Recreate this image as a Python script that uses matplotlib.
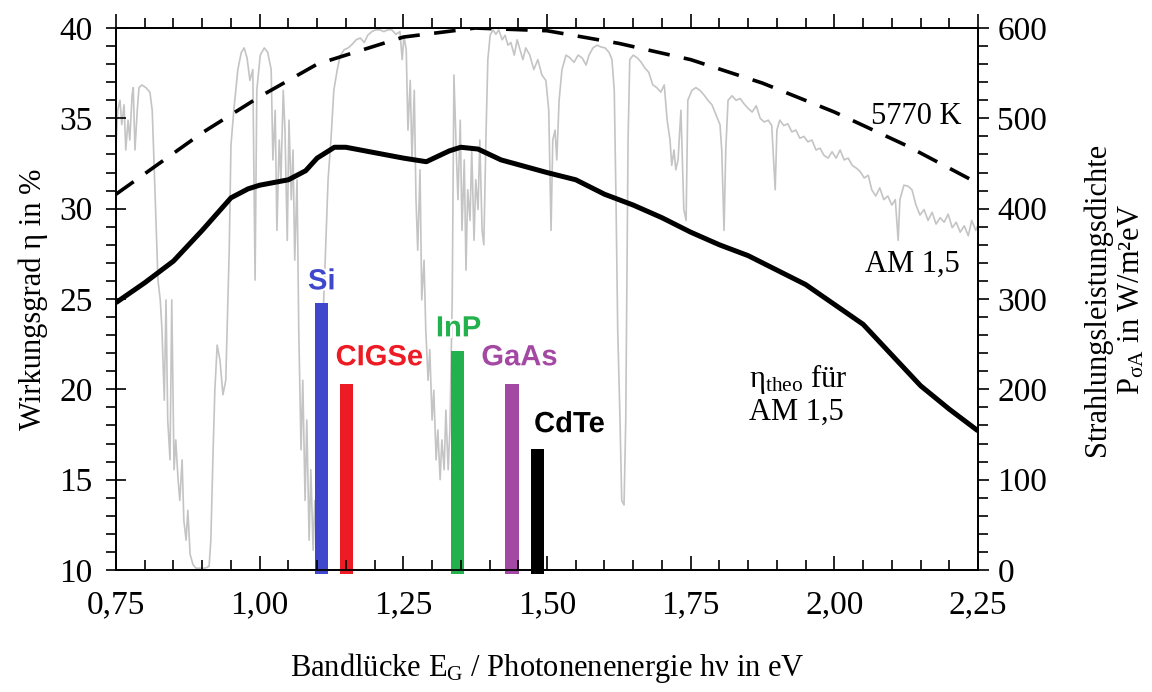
import matplotlib
matplotlib.use("Agg")
import matplotlib.pyplot as plt
import matplotlib.patheffects as pe
from matplotlib.ticker import MultipleLocator, FuncFormatter

# AM 1,5 spectrum (photon energy in eV, power density in W/m^2 eV)
am15_e = [0.750, 0.753, 0.757, 0.760, 0.764, 0.767, 0.771, 0.774, 0.778, 0.780, 0.783, 0.787, 0.790,
          0.795, 0.802, 0.809, 0.813, 0.816, 0.820, 0.823, 0.827, 0.830, 0.834, 0.837, 0.840, 0.844,
          0.847, 0.851, 0.854, 0.858, 0.861, 0.865, 0.868, 0.872, 0.875, 0.879, 0.884, 0.889, 0.896,
          0.905, 0.912, 0.915, 0.919, 0.922, 0.926, 0.931, 0.936, 0.941, 0.947, 0.950, 0.955, 0.962,
          0.968, 0.973, 0.978, 0.983, 0.988, 0.992, 0.995, 1.001, 1.008, 1.014, 1.020, 1.023, 1.027,
          1.030, 1.034, 1.037, 1.041, 1.044, 1.048, 1.051, 1.055, 1.058, 1.061, 1.065, 1.068, 1.072,
          1.075, 1.079, 1.082, 1.086, 1.089, 1.093, 1.096, 1.101, 1.105, 1.108, 1.114, 1.119, 1.124,
          1.129, 1.135, 1.140, 1.147, 1.154, 1.161, 1.168, 1.175, 1.182, 1.188, 1.195, 1.202, 1.209,
          1.216, 1.223, 1.230, 1.237, 1.244, 1.248, 1.251, 1.255, 1.258, 1.262, 1.265, 1.269, 1.272,
          1.275, 1.279, 1.282, 1.286, 1.289, 1.293, 1.296, 1.300, 1.303, 1.307, 1.310, 1.314, 1.317,
          1.321, 1.324, 1.328, 1.331, 1.335, 1.338, 1.342, 1.345, 1.349, 1.352, 1.356, 1.359, 1.362,
          1.366, 1.369, 1.373, 1.376, 1.380, 1.383, 1.387, 1.390, 1.394, 1.397, 1.401, 1.406, 1.411,
          1.416, 1.422, 1.427, 1.432, 1.437, 1.443, 1.448, 1.453, 1.458, 1.463, 1.470, 1.477, 1.484,
          1.491, 1.498, 1.503, 1.507, 1.510, 1.514, 1.517, 1.521, 1.526, 1.533, 1.540, 1.547, 1.554,
          1.561, 1.568, 1.573, 1.580, 1.587, 1.594, 1.601, 1.608, 1.613, 1.617, 1.620, 1.623, 1.627,
          1.630, 1.634, 1.637, 1.641, 1.644, 1.650, 1.657, 1.664, 1.670, 1.677, 1.684, 1.691, 1.698,
          1.704, 1.709, 1.714, 1.717, 1.721, 1.724, 1.728, 1.733, 1.738, 1.742, 1.745, 1.752, 1.759,
          1.766, 1.773, 1.780, 1.787, 1.794, 1.801, 1.804, 1.808, 1.811, 1.815, 1.822, 1.829, 1.836,
          1.843, 1.850, 1.857, 1.864, 1.871, 1.878, 1.885, 1.891, 1.897, 1.900, 1.905, 1.912, 1.919,
          1.926, 1.933, 1.940, 1.947, 1.954, 1.961, 1.968, 1.975, 1.982, 1.989, 1.996, 2.003, 2.010,
          2.017, 2.024, 2.031, 2.038, 2.045, 2.052, 2.059, 2.065, 2.072, 2.079, 2.086, 2.093, 2.100,
          2.106, 2.111, 2.114, 2.121, 2.128, 2.135, 2.142, 2.149, 2.156, 2.163, 2.170, 2.177, 2.184,
          2.191, 2.198, 2.205, 2.212, 2.219, 2.226, 2.233, 2.239, 2.246, 2.250]
am15_p = [470, 509, 520, 493, 515, 465, 498, 476, 526, 534, 465, 509, 534,
          537, 534, 529, 509, 454, 376, 321, 299, 266, 188, 299, 166, 122,
          299, 111, 144, 100, 77, 122, 55, 33, 66, 17, 6, 2, 2,
          2, 4, 33, 133, 199, 249, 232, 194, 210, 354, 470, 509, 554,
          573, 578, 567, 542, 554, 321, 531, 570, 578, 573, 554, 454, 509,
          376, 476, 432, 531, 487, 365, 498, 410, 465, 343, 432, 266, 133,
          210, 77, 166, 33, 111, 22, 77, 33, 166, 244, 343, 432, 476,
          531, 554, 569, 576, 578, 582, 587, 589, 584, 592, 596, 598, 598,
          596, 598, 598, 593, 596, 565, 591, 576, 487, 542, 454, 531, 410,
          354, 443, 299, 343, 266, 210, 244, 166, 199, 122, 155, 100, 144,
          111, 177, 111, 155, 299, 548, 465, 410, 498, 376, 454, 332, 421,
          387, 465, 365, 432, 399, 476, 376, 360, 487, 565, 592, 598, 593,
          598, 587, 592, 581, 584, 570, 587, 576, 565, 578, 570, 554, 565,
          548, 542, 509, 376, 476, 487, 454, 520, 554, 570, 567, 562, 570,
          567, 559, 570, 578, 581, 579, 578, 573, 565, 531, 410, 266, 166,
          77, 72, 166, 476, 565, 570, 567, 562, 556, 551, 537, 534, 529,
          537, 498, 476, 448, 465, 443, 454, 509, 399, 387, 520, 531, 534,
          531, 526, 520, 515, 504, 493, 465, 376, 465, 520, 525, 520, 522,
          516, 511, 507, 514, 500, 496, 498, 492, 421, 487, 498, 492, 494,
          485, 487, 478, 480, 474, 476, 465, 467, 459, 456, 463, 456, 465,
          454, 456, 448, 445, 441, 434, 437, 421, 414, 423, 410, 414, 404,
          410, 365, 410, 426, 425, 421, 404, 393, 399, 387, 396, 383, 390,
          385, 394, 379, 385, 374, 381, 370, 387, 376, 382]

# black body spectrum of the sun, 5770 K
bb_e = [0.75, 0.90, 1.00, 1.10, 1.25, 1.375, 1.50, 1.625, 1.75, 1.875, 2.00, 2.125, 2.25]
bb_p = [416, 484, 524, 560, 590, 600, 597, 583, 565, 539, 507, 470, 428]

# theoretical efficiency limit for AM 1,5 in %
eta_e = [0.75, 0.80, 0.85, 0.90, 0.95, 0.98, 1.00, 1.05, 1.08, 1.10, 1.13, 1.15, 1.20, 1.25,
         1.29, 1.33, 1.35, 1.38, 1.42, 1.50, 1.55, 1.60, 1.65, 1.70, 1.75, 1.80, 1.85, 1.90,
         1.95, 2.00, 2.05, 2.10, 2.15, 2.20, 2.25]
eta_theo = [24.8, 25.9, 27.1, 28.8, 30.6, 31.1, 31.3, 31.6, 32.1, 32.8, 33.4, 33.4, 33.1, 32.8,
            32.6, 33.2, 33.4, 33.3, 32.7, 32.0, 31.6, 30.8, 30.2, 29.5, 28.7, 28.0, 27.4, 26.6,
            25.8, 24.7, 23.6, 21.9, 20.2, 18.9, 17.7]

# record cells: band gap in eV, efficiency in %
materials = ["Si", "CIGSe", "InP", "GaAs", "CdTe"]
gaps = [1.108, 1.151, 1.344, 1.439, 1.484]
eff = [24.8, 20.3, 22.1, 20.3, 16.7]
colors = ["#3F48CC", "#ED1C24", "#22B14C", "#A349A4", "#000000"]

plt.rcParams["font.family"] = ["Liberation Serif", "DejaVu Serif"]
plt.rcParams["mathtext.fontset"] = "custom"
plt.rcParams["mathtext.rm"] = "Liberation Serif"
plt.rcParams["mathtext.it"] = "Liberation Serif:italic"

fig, ax = plt.subplots(figsize=(11.52, 6.92), dpi=100)
fig.subplots_adjust(left=0.1007, right=0.849, top=0.9595, bottom=0.1763)
ax2 = ax.twinx()
ax.set_zorder(ax2.get_zorder() + 1)
ax.patch.set_visible(False)

ax2.plot(am15_e, am15_p, color="#c4c4c4", lw=1.2)
ax2.plot(bb_e, bb_p, color="black", lw=2.6, dashes=(6, 4))
ax.plot(eta_e, eta_theo, color="black", lw=3.6, solid_capstyle="butt")

base = 9.8
ax.bar(gaps, [v - base for v in eff], bottom=base, width=0.023, color=colors, clip_on=False)

label_pos = [(1.108, 25.2), (1.208, 21.0), (1.346, 22.6), (1.452, 21.0), (1.539, 17.3)]
outline = [pe.withStroke(linewidth=3, foreground="white")]
for name, (lx, ly), c in zip(materials, label_pos, colors):
    ax.text(lx, ly, name, color=c, fontsize=21, fontweight="bold", family="Liberation Sans",
            ha="center", va="bottom", path_effects=outline)

ax.text(2.222, 35.1, "5770 K", fontsize=22, ha="right", va="center")
ax.text(2.218, 26.9, "AM 1,5", fontsize=22, ha="right", va="center")
ax.text(1.852, 20.6, r"$\mathrm{\eta_{theo}}$ für", fontsize=22, ha="left", va="center")
ax.text(1.852, 18.75, "AM 1,5", fontsize=22, ha="left", va="center")

ax.set_xlim(0.75, 2.25)
ax.set_ylim(10, 40)
ax2.set_ylim(0, 600)

ax.xaxis.set_major_locator(MultipleLocator(0.25))
ax.xaxis.set_minor_locator(MultipleLocator(0.05))
ax.yaxis.set_major_locator(MultipleLocator(5))
ax.yaxis.set_minor_locator(MultipleLocator(1))
ax2.yaxis.set_major_locator(MultipleLocator(100))
ax2.yaxis.set_minor_locator(MultipleLocator(20))
ax.xaxis.set_major_formatter(FuncFormatter(lambda v, p: f"{v:.2f}".replace(".", ",")))

ax.tick_params(axis="x", which="both", top=True, direction="in", labelsize=24, pad=14)
ax.tick_params(axis="x", which="major", length=10, width=1.2)
ax.tick_params(axis="x", which="minor", length=7, width=1.2)
ax.tick_params(axis="y", which="both", direction="out", labelsize=24, width=1.2)
ax.tick_params(axis="y", which="major", direction="inout", length=14, pad=10)
ax.tick_params(axis="y", which="minor", length=7)
ax2.tick_params(axis="y", which="both", direction="out", labelsize=24, width=1.2)
ax2.tick_params(axis="y", which="major", length=8, pad=6)
ax2.tick_params(axis="y", which="minor", length=7)
for t in ax.xaxis.get_ticklines(minor=False)[1::2] + ax.xaxis.get_ticklines(minor=True)[1::2]:
    t.set_marker(2)  # top ticks point outward

for a in (ax, ax2):
    for s in a.spines.values():
        s.set_linewidth(1.3)

ax.set_xlabel("Bandlücke E$_\\mathrm{G}$ / Photonenenergie hν in eV", fontsize=22, labelpad=22)
ax.set_ylabel("Wirkungsgrad η in %", fontsize=22, labelpad=8)
ax2.set_ylabel("Strahlungsleistungsdichte\nP$_{\\mathrm{\\sigma A}}$ in W/m²eV", fontsize=22,
               labelpad=25, linespacing=1.25)

fig.savefig("out.png", dpi=100)
